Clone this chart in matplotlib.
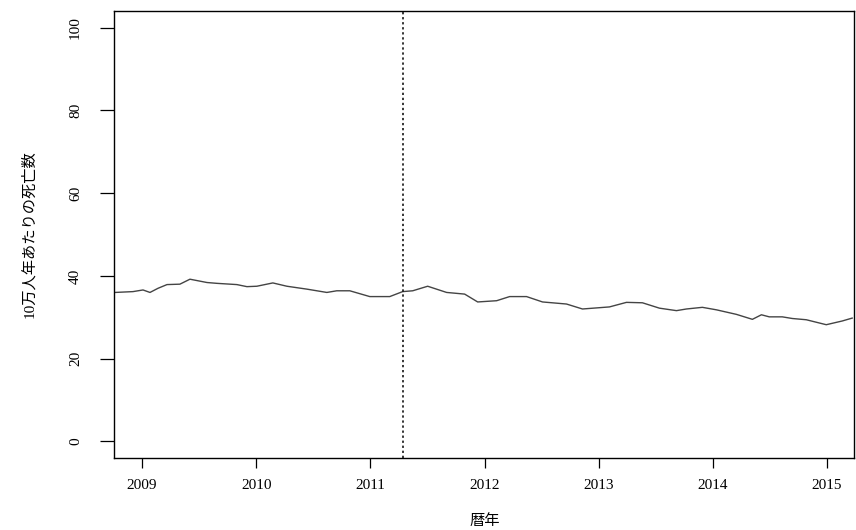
# 10万人年あたりの死亡数 の推移 (R base plot style)

import matplotlib
matplotlib.use("Agg")
import matplotlib.pyplot as plt

# data
years = [2008.764, 2008.921, 2009.009, 2009.070, 2009.140, 2009.219, 2009.332,
         2009.420, 2009.569, 2009.656, 2009.831, 2009.919, 2010.006, 2010.146,
         2010.269, 2010.444, 2010.619, 2010.706, 2010.820, 2010.995, 2011.170,
         2011.283, 2011.371, 2011.502, 2011.668, 2011.826, 2011.940, 2012.106,
         2012.220, 2012.368, 2012.508, 2012.718, 2012.858, 2013.094, 2013.243,
         2013.383, 2013.532, 2013.681, 2013.768, 2013.908, 2014.031, 2014.206,
         2014.346, 2014.425, 2014.494, 2014.608, 2014.696, 2014.818, 2014.993,
         2015.133, 2015.220]
deaths = [36.0, 36.2, 36.6, 36.0, 37.0, 37.9, 38.0,
          39.2, 38.4, 38.2, 37.9, 37.4, 37.5, 38.3,
          37.5, 36.8, 36.0, 36.4, 36.4, 35.0, 35.0,
          36.2, 36.4, 37.5, 36.0, 35.6, 33.7, 34.0,
          35.0, 35.0, 33.7, 33.2, 32.0, 32.5, 33.6,
          33.5, 32.2, 31.6, 32.0, 32.4, 31.8, 30.7,
          29.5, 30.6, 30.1, 30.1, 29.7, 29.4, 28.2,
          29.1, 29.8]
event_year = 2011.29
xticks = [2009, 2010, 2011, 2012, 2013, 2014, 2015]
yticks = [0, 20, 40, 60, 80, 100]

fonts = ["Liberation Serif", "Noto Sans CJK JP"]
plt.rcParams["font.family"] = fonts

fig = plt.figure(figsize=(8.56, 5.30), dpi=100)
ax = fig.add_axes([0.1332, 0.136, 0.865, 0.843])

ax.plot(years, deaths, color="#444444", lw=1.0)
ax.axvline(event_year, color="black", lw=1.1, linestyle=(0, (1.5, 1.8)))

ax.set_xlim(2008.755, 2015.24)
ax.set_ylim(-4, 104)
ax.set_xticks(xticks)
ax.set_yticks(yticks)
ax.set_yticklabels([str(v) for v in yticks], rotation=90, va="center")
ax.tick_params(axis="x", length=7, width=0.9, pad=8, labelsize=11, colors="black")
ax.tick_params(axis="y", length=10, width=0.9, pad=13, labelsize=11, colors="black")
for s in ax.spines.values():
    s.set_linewidth(1.0)

ax.set_xlabel("暦年", fontsize=11, labelpad=16)
ax.set_ylabel("10万人年あたりの死亡数", fontsize=11, labelpad=24)

fig.savefig("out.png", dpi=100)
